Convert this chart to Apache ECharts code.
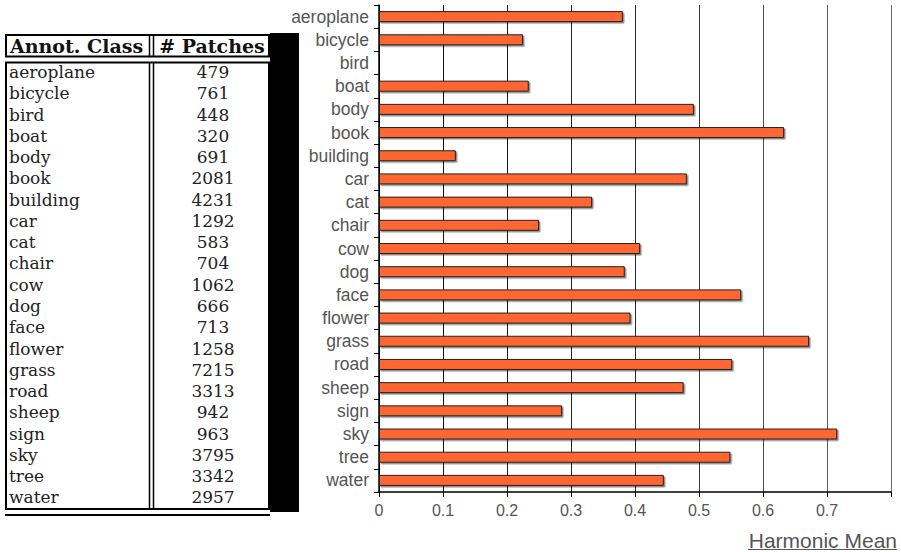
<!DOCTYPE html>
<html>
<head>
<meta charset="utf-8">
<script src="https://cdn.jsdelivr.net/npm/echarts@6/dist/echarts.min.js"></script>
<style>
html,body{margin:0;padding:0;background:#fff;}
#chart{width:901px;height:552px;}
</style>
</head>
<body>
<div id="chart"></div>
<script>
const categories = ['aeroplane','bicycle','bird','boat','body','book','building','car','cat','chair','cow','dog','face','flower','grass','road','sheep','sign','sky','tree','water'];
const harmonicMean = [0.381,0.225,0,0.234,0.492,0.633,0.120,0.481,0.333,0.250,0.408,0.384,0.566,0.393,0.672,0.552,0.476,0.286,0.716,0.549,0.445];
const patches = [479,761,448,320,691,2081,4231,1292,583,704,1062,666,713,1258,7215,3313,942,963,3795,3342,2957];
const xTickLabels = ['0','0.1','0.2','0.3','0.4','0.5','0.6','0.7',''];
const tableHeaders = ['Annot. Class', '# Patches'];
const axisName = 'Harmonic Mean';

const chart = echarts.init(document.getElementById('chart'), null, {renderer: 'svg'});

// Table layout
const tLeft = 6, tRight = 269, colSep = 149.5;
const rowTop = 72, rowStep = 21.27;
const serif = '"DejaVu Serif", "Liberation Serif", serif';
const graphics = [];

graphics.push({type:'rect', shape:{x:270, y:33, width:29, height:479}, style:{fill:'#000'}, silent:true});
graphics.push({type:'rect', shape:{x:tLeft, y:35, width:tRight - tLeft, height:21.5}, style:{fill:'#fff', stroke:'#000', lineWidth:2}, silent:true});
graphics.push({type:'rect', shape:{x:tLeft, y:62.5, width:tRight - tLeft, height:446.5}, style:{fill:'#fff', stroke:'#000', lineWidth:2}, silent:true});
[colSep, colSep + 4].forEach(function (x) {
  graphics.push({type:'line', shape:{x1:x, y1:35, x2:x, y2:56.5}, style:{stroke:'#000', lineWidth:1.5}, silent:true});
  graphics.push({type:'line', shape:{x1:x, y1:62.5, x2:x, y2:509}, style:{stroke:'#000', lineWidth:1.5}, silent:true});
});
graphics.push({type:'line', shape:{x1:5, y1:515, x2:270, y2:515}, style:{stroke:'#000', lineWidth:2}, silent:true});

graphics.push({type:'text', x:10, y:46, style:{text:tableHeaders[0], font:'bold 19px ' + serif, fill:'#111', textAlign:'left', textVerticalAlign:'middle', align:'left', verticalAlign:'middle'}, silent:true});
graphics.push({type:'text', x:212, y:46, style:{text:tableHeaders[1], font:'bold 19px ' + serif, fill:'#111', textAlign:'center', textVerticalAlign:'middle', align:'center', verticalAlign:'middle'}, silent:true});

categories.forEach(function (c, i) {
  const y = rowTop + i * rowStep;
  graphics.push({type:'text', x:9, y:y, style:{text:c, font:'17px ' + serif, lineHeight:19, fill:'#222', textAlign:'left', textVerticalAlign:'middle', align:'left', verticalAlign:'middle'}, silent:true});
  graphics.push({type:'text', x:213, y:y, style:{text:String(patches[i]), font:'17px ' + serif, lineHeight:19, fill:'#222', textAlign:'center', textVerticalAlign:'middle', align:'center', verticalAlign:'middle'}, silent:true});
});

// Axis name with underline
graphics.push({type:'text', x:897, y:540, style:{text:axisName, font:'21px "Liberation Sans", Arial, sans-serif', fill:'#555', textAlign:'right', textVerticalAlign:'middle', align:'right', verticalAlign:'middle'}, silent:true});
graphics.push({type:'line', shape:{x1:748, y1:549.5, x2:897, y2:549.5}, style:{stroke:'#555', lineWidth:1}, silent:true});

const option = {
  animation: false,
  backgroundColor: '#fff',
  grid: {left: 379, right: 10, top: 5, bottom: 60, containLabel: false},
  xAxis: {
    type: 'value',
    min: 0, max: 0.8, interval: 0.1,
    axisLine: {show: true, lineStyle: {color: '#000', width: 1.5}},
    axisTick: {show: true, inside: false, length: 5, lineStyle: {color: '#000'}},
    axisLabel: {
      color: '#555', fontSize: 16, fontFamily: '"Liberation Sans", Arial, sans-serif', margin: 10,
      formatter: function (v) { return xTickLabels[Math.round(v * 10)]; }
    },
    splitLine: {show: true, lineStyle: {color: ['#000', '#111', '#1a1a1a', '#222', '#2a2a2a', '#3a3a3a', '#4a4a4a', '#5a5a5a', '#6a6a6a'], width: 1}}
  },
  yAxis: {
    type: 'category',
    data: categories,
    inverse: true,
    axisLine: {show: true, lineStyle: {color: '#000', width: 1.5}},
    axisTick: {show: true, inside: false, length: 5, interval: 0, lineStyle: {color: '#000'}},
    axisLabel: {color: '#555', fontSize: 17.5, lineHeight: 20, interval: 0, fontFamily: '"Liberation Sans", Arial, sans-serif', margin: 10},
    splitLine: {show: false}
  },
  series: [{
    type: 'bar',
    data: harmonicMean,
    barWidth: 11,
    itemStyle: {
      color: '#FF6633', borderColor: '#222', borderWidth: 1,
      shadowColor: 'rgba(0,0,0,0.45)', shadowOffsetX: 1.5, shadowOffsetY: 1.5, shadowBlur: 0
    }
  }],
  graphic: graphics
};
chart.setOption(option);
</script>
</body>
</html>
